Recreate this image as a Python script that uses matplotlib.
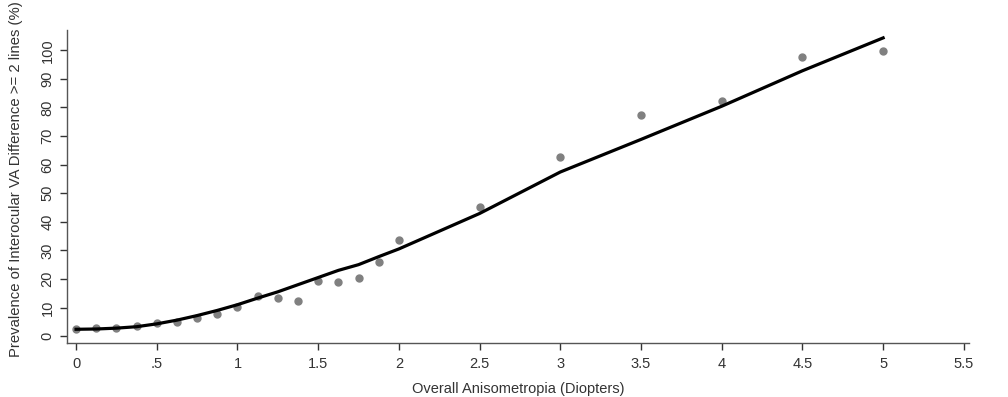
import numpy as np
import matplotlib
matplotlib.use('Agg')
import matplotlib.pyplot as plt

plt.rcParams['font.family'] = ['Liberation Sans', 'DejaVu Sans']

# observed prevalence (%) by anisometropia level
aniso = [0, 0.125, 0.25, 0.375, 0.5, 0.625, 0.75, 0.875, 1.0, 1.125, 1.25, 1.375,
         1.5, 1.625, 1.75, 1.875, 2.0, 2.5, 3.0, 3.5, 4.0, 4.5, 5.0]
prevalence = [2.5, 3.0, 2.8, 3.7, 4.5, 5.0, 6.5, 7.7, 10.2, 14.0, 13.3, 12.4,
              19.3, 19.0, 20.4, 26.0, 33.7, 45.0, 62.5, 77.4, 82.3, 97.7, 99.8]
# smoothed fit at the same points
fit = [2.4, 2.5, 2.8, 3.3, 4.3, 5.6, 7.2, 9.0, 11.0, 13.3, 15.5, 18.0,
       20.5, 23.0, 25.0, 27.8, 30.5, 42.9, 57.4, 68.8, 80.4, 92.8, 104.3]

xticks = [0, 0.5, 1, 1.5, 2, 2.5, 3, 3.5, 4, 4.5, 5, 5.5]
xticklabels = ['0', '.5', '1', '1.5', '2', '2.5', '3', '3.5', '4', '4.5', '5', '5.5']
yticks = list(range(0, 101, 10))

fig = plt.figure(figsize=(10.08, 3.97), dpi=100)
ax = fig.add_axes([0.0665, 0.136, 0.8945, 0.788])

ax.plot(aniso, prevalence, 'o', color='#808080', markersize=5, zorder=2)
ax.plot(aniso, fit, color='black', linewidth=2.3, zorder=3)

ax.set_xlim(-0.056, 5.53)
ax.set_ylim(-2.4, 107)
ax.set_xticks(xticks)
ax.set_xticklabels(xticklabels)
ax.set_yticks(yticks)
ax.set_yticklabels([str(v) for v in yticks], rotation=90, va='center')

for s in ['top', 'right']:
    ax.spines[s].set_visible(False)
for s in ['left', 'bottom']:
    ax.spines[s].set_color('#555555')
    ax.spines[s].set_linewidth(1.0)
ax.tick_params(colors='#333333', labelsize=10.5, length=5, width=1.0)
ax.tick_params(axis='x', pad=5)
ax.tick_params(axis='y', pad=4)

ax.set_xlabel('Overall Anisometropia (Diopters)', fontsize=10.5, color='#333333', labelpad=8)
fig.text(0.016, 0.1, 'Prevalence of Interocular VA Difference >= 2 lines (%)',
         rotation=90, ha='center', va='bottom', fontsize=10.7, color='#333333')

fig.savefig('out.png', dpi=100)
